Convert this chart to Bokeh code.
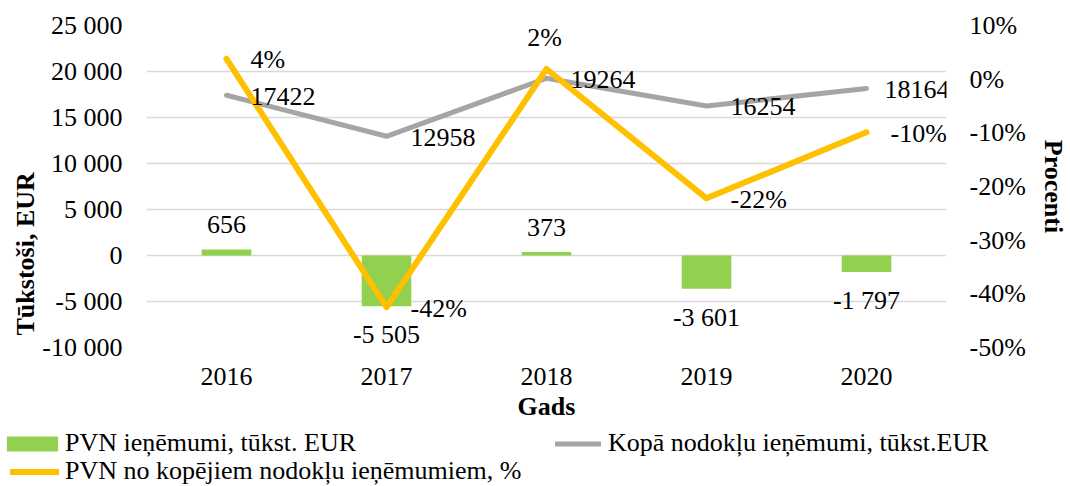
import math
from bokeh.plotting import figure
from bokeh.layouts import column
from bokeh.models import (Range1d, LinearAxis, FixedTicker, ColumnDataSource,
                          Legend, LegendItem, Title, LabelSet)
from bokeh.core.properties import value
from bokeh.embed import file_html
from bokeh.resources import INLINE

# ---- data ----
years = ["2016", "2017", "2018", "2019", "2020"]
pvn = [656, -5505, 373, -3601, -1797]
pvn_labels = ["656", "-5 505", "373", "-3 601", "-1 797"]
total = [17422, 12958, 19264, 16254, 18164]
total_labels = ["17422", "12958", "19264", "16254", "18164"]
share = [3.8, -42.5, 1.9, -22.2, -9.9]
share_labels = ["4%", "-42%", "2%", "-22%", "-10%"]

left_ticks = [-10000, -5000, 0, 5000, 10000, 15000, 20000, 25000]
left_tick_labels = ["-10 000", "-5 000", "0", "5 000", "10 000", "15 000", "20 000", "25 000"]
right_ticks = [-50, -40, -30, -20, -10, 0, 10]
right_tick_labels = ["-50%", "-40%", "-30%", "-20%", "-10%", "0%", "10%"]

FONT = "Liberation Serif"
FS = "26px"
GREEN = "#92D050"
GREY = "#A5A5A5"
YELLOW = "#FFC000"

W = 1070
H1 = 429
H2 = 57

p = figure(x_range=years, y_range=Range1d(left_ticks[0], left_ticks[-1]),
           width=W, height=H1, output_backend="svg", toolbar_location=None,
           min_border_left=146, min_border_right=116, min_border_top=25,
           min_border_bottom=H1 - 347)
p.extra_y_ranges = {"pct": Range1d(right_ticks[0], right_ticks[-1])}
p.outline_line_color = None
p.background_fill_color = "white"
p.border_fill_color = "white"

p.xgrid.grid_line_color = None
p.ygrid.grid_line_color = "#D9D9D9"
p.ygrid.grid_line_width = 1.6
p.ygrid.ticker = FixedTicker(ticks=left_ticks)

# left axis
ya = p.yaxis[0]
ya.ticker = FixedTicker(ticks=left_ticks)
ya.major_label_overrides = {t: s for t, s in zip(left_ticks, left_tick_labels)}
ya.axis_line_color = None
ya.major_tick_line_color = None
ya.minor_tick_line_color = None
ya.major_tick_out = 0
ya.major_tick_in = 0
ya.major_label_standoff = 24
ya.major_label_text_font = FONT
ya.major_label_text_font_size = FS
ya.major_label_text_color = "black"

# right axis
ra = LinearAxis(y_range_name="pct", ticker=FixedTicker(ticks=right_ticks))
ra.major_label_overrides = {t: s for t, s in zip(right_ticks, right_tick_labels)}
ra.axis_line_color = None
ra.major_tick_line_color = None
ra.minor_tick_line_color = None
ra.major_tick_out = 0
ra.major_tick_in = 0
ra.major_label_standoff = 23
ra.major_label_text_font = FONT
ra.major_label_text_font_size = FS
ra.major_label_text_color = "black"
ra.axis_label = "Procenti"
ra.axis_label_standoff = 10
ra.axis_label_text_font = FONT
ra.axis_label_text_font_size = FS
ra.axis_label_text_font_style = "bold"
ra.axis_label_text_color = "black"
try:
    ra.axis_label_orientation = "vertical"
except Exception:
    pass
p.add_layout(ra, "right")

# x axis
xa = p.xaxis[0]
xa.axis_line_color = None
xa.major_tick_line_color = None
xa.minor_tick_line_color = None
xa.major_tick_out = 0
xa.major_tick_in = 0
xa.major_label_standoff = 20
xa.major_label_text_font = FONT
xa.major_label_text_font_size = FS
xa.major_label_text_color = "black"
xa.axis_label = "Gads"
xa.axis_label_standoff = 4
xa.axis_label_text_font = FONT
xa.axis_label_text_font_size = FS
xa.axis_label_text_font_style = "bold"
xa.axis_label_text_color = "black"

# left title (placed lower than center as in reference)
lt = Title(text="Tūkstoši, EUR", align="left", offset=12, text_font=FONT,
           text_font_size=FS, text_font_style="bold", text_color="black",
           standoff=0)
p.add_layout(lt, "left")

src = ColumnDataSource(dict(year=years, pvn=pvn, pvn_lab=pvn_labels,
                            total=total, total_lab=total_labels,
                            share=share, share_lab=share_labels))

bars = p.vbar(x="year", top="pvn", bottom=0, width=0.31, source=src,
              fill_color=GREEN, line_color=None)
grey = p.line(x="year", y="total", source=src, line_width=5, line_color=GREY,
              line_cap="round", line_join="round")
yel = p.line(x="year", y="share", source=src, y_range_name="pct", line_width=6,
             line_color=YELLOW, line_cap="round", line_join="round")

common = dict(text_font=value(FONT), text_font_size=value(FS), text_color="black")

# bar labels
pos_idx = [i for i, v in enumerate(pvn) if v >= 0]
neg_idx = [i for i, v in enumerate(pvn) if v < 0]
pos_src = ColumnDataSource(dict(x=[years[i] for i in pos_idx], y=[pvn[i] for i in pos_idx],
                                t=[pvn_labels[i] for i in pos_idx]))
neg_src = ColumnDataSource(dict(x=[years[i] for i in neg_idx], y=[pvn[i] for i in neg_idx],
                                t=[pvn_labels[i] for i in neg_idx]))
p.add_layout(LabelSet(x="x", y="y", text="t", source=pos_src, text_align="center",
                      text_baseline="alphabetic", y_offset=16, **common))
p.add_layout(LabelSet(x="x", y="y", text="t", source=neg_src, text_align="center",
                      text_baseline="alphabetic", y_offset=-37, **common))

# total labels (last one nudged left so it stays inside the plot area)
n = len(years)
t_main = ColumnDataSource(dict(x=years[:n - 1], y=total[:n - 1], t=total_labels[:n - 1]))
t_last = ColumnDataSource(dict(x=years[n - 1:], y=total[n - 1:], t=total_labels[n - 1:]))
p.add_layout(LabelSet(x="x", y="y", text="t", source=t_main, text_align="left",
                      text_baseline="middle", x_offset=24, y_offset=-1, **common))
p.add_layout(LabelSet(x="x", y="y", text="t", source=t_last, text_align="left",
                      text_baseline="middle", x_offset=18, y_offset=-1, **common))

# share labels: 2018 label sits above its point, others to the right
right_idx = [0, 1, 3, 4]
above_idx = [2]
sr = ColumnDataSource(dict(x=[years[i] for i in right_idx], y=[share[i] for i in right_idx],
                           t=[share_labels[i] for i in right_idx]))
sa = ColumnDataSource(dict(x=[years[i] for i in above_idx], y=[share[i] for i in above_idx],
                           t=[share_labels[i] for i in above_idx]))
p.add_layout(LabelSet(x="x", y="y", text="t", source=sr, y_range_name="pct", text_align="left",
                      text_baseline="middle", x_offset=24, y_offset=-1, **common))
p.add_layout(LabelSet(x="x", y="y", text="t", source=sa, y_range_name="pct", text_align="center",
                      text_baseline="alphabetic", x_offset=-2, y_offset=23, **common))

# ---- legend strip below the chart ----
p2 = figure(width=W, height=H2, x_range=Range1d(0, 1), y_range=Range1d(0, 1),
            output_backend="svg", toolbar_location=None, min_border=0,
            min_border_left=0, min_border_right=0, min_border_top=0, min_border_bottom=0,
            x_axis_type=None, y_axis_type=None)
for fig in (p, p2):
    try:
        fig.frame_align = False
    except Exception:
        pass
p2.outline_line_color = None
p2.background_fill_color = "white"
p2.border_fill_color = "white"
# swatch renderers for the legend (kept outside the visible range)
lg_bar = p2.vbar(x=[-5], top=[-4], bottom=[-5], width=0.1, fill_color=GREEN, line_color=None)
lg_grey = p2.line(x=[-5, -4], y=[-5, -5], line_width=5, line_color=GREY, line_cap="round")
lg_yel = p2.line(x=[-5, -4], y=[-5, -5], line_width=6, line_color=YELLOW, line_cap="round")

leg_common = dict(orientation="horizontal", border_line_color=None,
                  background_fill_alpha=0, padding=0, margin=0, spacing=0,
                  label_text_font=FONT, label_text_font_size=FS,
                  label_text_color="black", label_height=26)
leg_a = Legend(items=[LegendItem(label="PVN ieņēmumi, tūkst. EUR", renderers=[lg_bar])],
               location=(0, 28), glyph_width=64, glyph_height=19, label_standoff=1,
               **leg_common)
leg_b = Legend(items=[LegendItem(label="Kopā nodokļu ieņēmumi, tūkst.EUR", renderers=[lg_grey])],
               location=(555, 28), glyph_width=46, glyph_height=19, label_standoff=7,
               **leg_common)
leg_c = Legend(items=[LegendItem(label="PVN no kopējiem nodokļu ieņēmumiem, %", renderers=[lg_yel])],
               location=(10, 0), glyph_width=49, glyph_height=19, label_standoff=6,
               **leg_common)
for lg in (leg_a, leg_b, leg_c):
    p2.add_layout(lg, "center")

layout = column(p, p2, spacing=0)
open("out.html", "w").write(file_html(layout, INLINE))
